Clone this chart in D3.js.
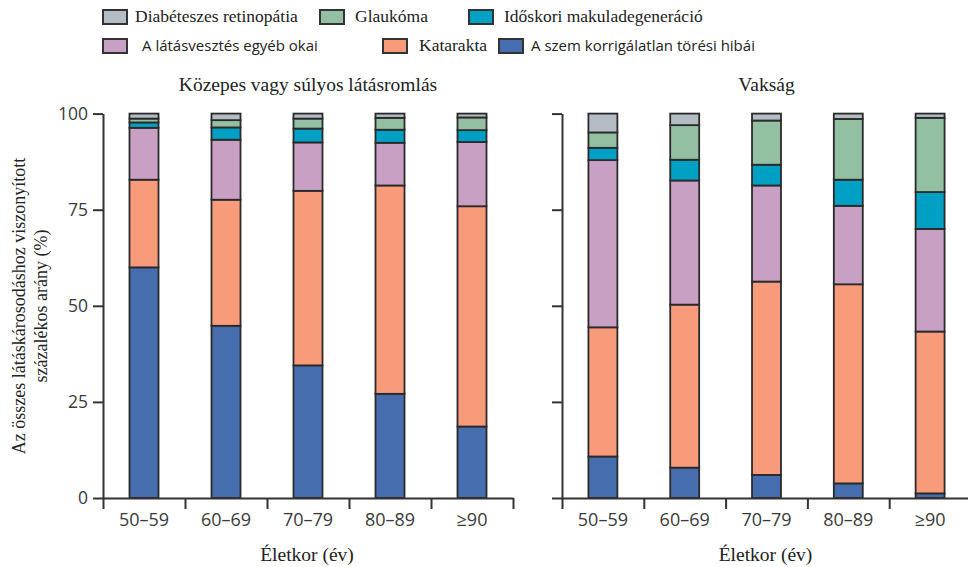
<!DOCTYPE html>
<html>
<head>
<meta charset="utf-8">
<script src="https://cdn.jsdelivr.net/npm/d3@7"></script>
<style>
  html, body { margin: 0; padding: 0; background: #fff; }
  svg { display: block; }
</style>
</head>
<body>
<svg id="chart" width="968" height="567"></svg>
<script>
// ---------- DATA ----------
const ageGroups = ["50–59", "60–69", "70–79", "80–89", "≥90"];
const causes = [
  "A szem korrigálatlan törési hibái",
  "Katarakta",
  "A látásvesztés egyéb okai",
  "Időskori makuladegeneráció",
  "Glaukóma",
  "Diabéteszes retinopátia"
];
const causeColors = ["#466eae", "#f89b7a", "#c8a0c3", "#009fc4", "#93bfa3", "#b5bdc4"];

// Panel 1: Közepes vagy súlyos látásromlás (values per age group, %)
const mvsRefractive = [60.0, 44.8, 34.5, 27.1, 18.6];
const mvsCataract   = [22.8, 32.8, 45.4, 54.2, 57.3];
const mvsOther      = [13.5, 15.6, 12.6, 11.1, 16.7];
const mvsAMD        = [1.4, 3.2, 3.6, 3.4, 3.1];
const mvsGlaucoma   = [1.0, 1.9, 2.6, 3.1, 3.3];
const mvsDR         = [1.3, 1.7, 1.3, 1.1, 1.0];

// Panel 2: Vakság
const blRefractive = [10.8, 7.9, 6.0, 3.8, 1.2];
const blCataract   = [33.6, 42.4, 50.3, 51.8, 42.1];
const blOther      = [43.5, 32.3, 25.0, 20.4, 26.7];
const blAMD        = [3.2, 5.4, 5.4, 6.8, 9.6];
const blGlaucoma   = [4.0, 9.0, 11.5, 15.8, 19.3];
const blDR         = [4.9, 3.0, 1.8, 1.4, 1.1];

const yTicks = [0, 25, 50, 75, 100];

const panelTitles = ["Közepes vagy súlyos látásromlás", "Vakság"];
const xTitle = "Életkor (év)";
const yTitleLines = ["Az összes látáskárosodáshoz viszonyított", "százalékos arány (%)"];

// legend layout rows (order as in reference)
const legendItems = [
  {name: "Diabéteszes retinopátia", color: "#b5bdc4", serif: true},
  {name: "Glaukóma", color: "#93bfa3", serif: true},
  {name: "Időskori makuladegeneráció", color: "#009fc4", serif: true},
  {name: "A látásvesztés egyéb okai", color: "#c8a0c3", serif: false},
  {name: "Katarakta", color: "#f89b7a", serif: true},
  {name: "A szem korrigálatlan törési hibái", color: "#466eae", serif: false}
];
const legendPos = [[103, 10], [320, 10], [469, 10], [103, 39], [383, 39], [499, 39]];
const legendTextX = [135, 355, 504, 142, 419, 531];

// ---------- BUILD ----------
function buildRows(series) {
  return ageGroups.map((g, i) => {
    const r = {group: g};
    causes.forEach((c, k) => r[c] = series[k][i]);
    return r;
  });
}
const panels = [
  {title: panelTitles[0], rows: buildRows([mvsRefractive, mvsCataract, mvsOther, mvsAMD, mvsGlaucoma, mvsDR]), x0: 103, x1: 513, labels: true},
  {title: panelTitles[1], rows: buildRows([blRefractive, blCataract, blOther, blAMD, blGlaucoma, blDR]), x0: 562, x1: 971, labels: false}
];

const svg = d3.select("#chart");
const sansFont = "'Open Sans', 'DejaVu Sans', sans-serif";
const serifFont = "'Liberation Serif', 'DejaVu Serif', serif";
const axisColor = "#333";

const y = d3.scaleLinear().domain([0, 100]).range([498, 113.6]);
const stack = d3.stack().keys(causes);
const color = d3.scaleOrdinal().domain(causes).range(causeColors);

panels.forEach(p => {
  const g = svg.append("g");
  const x = d3.scaleBand().domain(ageGroups).range([p.x0, p.x1]).paddingInner(0.646).paddingOuter(0.323);
  const xb = d3.scaleLinear().domain([0, ageGroups.length]).range([p.x0, p.x1]);

  // bars
  const series = stack(p.rows);
  g.selectAll("g.layer").data(series).join("g")
    .attr("class", "layer")
    .attr("fill", d => color(d.key))
    .selectAll("rect").data(d => d).join("rect")
    .attr("x", d => x(d.data.group))
    .attr("width", x.bandwidth())
    .attr("y", d => y(d[1]))
    .attr("height", d => y(d[0]) - y(d[1]))
    .attr("stroke", "#2a2a2a")
    .attr("stroke-width", 1.8);

  // y axis
  const ya = g.append("g").attr("transform", `translate(${p.x0},0)`)
    .call(d3.axisLeft(y).tickValues(yTicks).tickSize(10).tickSizeOuter(0).tickPadding(5)
      .tickFormat(p.labels ? d3.format("d") : () => ""));
  ya.select(".domain").attr("stroke", axisColor).attr("stroke-width", 2);
  ya.selectAll(".tick line").attr("stroke", axisColor).attr("stroke-width", 2);
  ya.selectAll(".tick text").attr("font-family", sansFont).attr("font-size", 17.5).attr("fill", "#3a3a3a");

  // x axis boundary ticks
  const xa = g.append("g").attr("transform", `translate(0,498)`)
    .call(d3.axisBottom(xb).tickValues(d3.range(ageGroups.length + 1)).tickSize(11).tickSizeOuter(0).tickFormat(() => ""));
  xa.select(".domain").attr("stroke", axisColor).attr("stroke-width", 2);
  xa.selectAll(".tick line").attr("stroke", axisColor).attr("stroke-width", 2);

  // x category labels
  const xl = g.append("g").attr("transform", `translate(0,498)`)
    .call(d3.axisBottom(x).tickSize(0).tickPadding(15));
  xl.select(".domain").remove();
  xl.selectAll(".tick text").attr("font-family", sansFont).attr("font-size", 18).attr("fill", "#3a3a3a");

  // x title
  g.append("text").attr("x", (p.x0 + p.x1) / 2 - 1).attr("y", 561)
    .attr("text-anchor", "middle").attr("font-family", serifFont).attr("font-size", 19.5).attr("fill", "#222")
    .text(xTitle);

  // panel title
  g.append("text").attr("x", (p.x0 + p.x1) / 2).attr("y", 91)
    .attr("text-anchor", "middle").attr("font-family", serifFont).attr("font-size", 19.5).attr("fill", "#222")
    .text(p.title);
});

// y title
const yt = svg.append("text").attr("transform", "translate(0,306) rotate(-90)")
  .attr("text-anchor", "middle").attr("font-family", serifFont).attr("font-size", 18).attr("fill", "#222");
yTitleLines.forEach((t, i) => yt.append("tspan").attr("x", 0).attr("y", 25 + i * 22).text(t));

// legend
const lg = svg.append("g");
legendItems.forEach((it, i) => {
  lg.append("rect").attr("x", legendPos[i][0]).attr("y", legendPos[i][1])
    .attr("width", 24).attr("height", 14).attr("fill", it.color)
    .attr("stroke", "#333").attr("stroke-width", 2);
  lg.append("text").attr("x", legendTextX[i]).attr("y", legendPos[i][1] + 12)
    .attr("font-family", it.serif ? serifFont : sansFont)
    .attr("font-size", it.serif ? 17.5 : 15).attr("fill", "#222")
    .text(it.name);
});
</script>
</body>
</html>
